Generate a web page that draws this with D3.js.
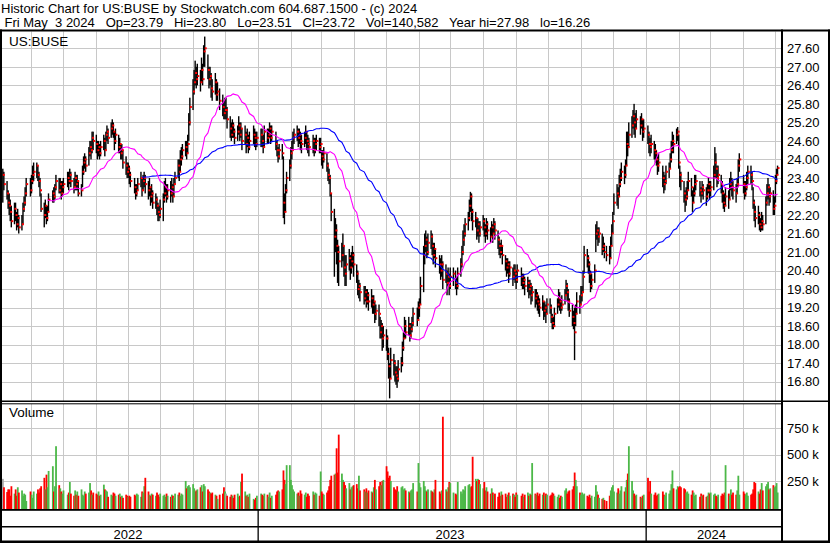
<!DOCTYPE html>
<html><head><meta charset="utf-8">
<script src="https://cdn.jsdelivr.net/npm/d3@7"></script>
<style>
html,body{margin:0;padding:0;background:#fff;}
svg{display:block;font-family:"Liberation Sans",Arial,sans-serif;}
</style></head><body>
<svg id="chart" width="830" height="543"></svg>
<script>
const title1 = "Historic Chart for US:BUSE by Stockwatch.com 604.687.1500 - (c) 2024";
const title2 = "Fri May  3 2024   Op=23.79   Hi=23.80   Lo=23.51   Cl=23.72   Vol=140,582   Year hi=27.98   lo=16.26";
const symbolLabel = "US:BUSE";
const volumeLabel = "Volume";
const priceTicks = [16.80,17.40,18.00,18.60,19.20,19.80,20.40,21.00,21.60,22.20,22.80,23.40,24.00,24.60,25.20,25.80,26.40,27.00,27.60];
const volumeTicks = [250000,500000,750000];
const volumeTickLabels = ["250 k","500 k","750 k"];
const yearLabels = ["2022","2023","2024"];
const firstDay = "2022-05-05";
const lastDay = "2024-05-03";
const holidays = ["2022-05-30","2022-06-20","2022-07-04","2022-09-05","2022-11-24","2022-12-26","2023-01-02","2023-01-16","2023-02-20","2023-04-07","2023-05-29","2023-06-19","2023-07-04","2023-09-04","2023-11-23","2023-12-25","2024-01-01","2024-01-15","2024-02-19","2024-03-29"];
const maShort = 30, maLong = 90;

// daily closes, one line per month (May 2022 .. May 2024)
const close = [
23.5,23.2,22.9,22.6,22.5,22.3,22.0,22.4,22.2,21.9,22.1,21.8,21.9,22.4,22.6,22.9,23.2,23.0,
23.3,23.5,23.6,23.8,23.5,23.3,23.0,22.4,22.2,22.5,22.1,22.3,22.7,22.9,22.8,23.1,23.3,23.0,23.2,22.9,23.1,
23.2,23.4,23.3,23.5,23.3,23.1,23.4,23.2,23.3,22.9,23.0,23.6,23.9,24.0,23.8,24.2,24.4,24.3,24.7,24.6,
24.5,24.3,24.4,24.2,24.4,24.6,24.3,24.8,24.9,24.7,25.0,25.1,24.9,24.6,24.8,24.4,24.5,24.2,24.3,23.9,23.8,23.6,23.7,
23.5,23.3,23.1,22.9,23.0,23.2,23.4,23.0,23.3,23.4,23.2,23.0,23.1,22.8,22.9,22.6,22.7,22.5,22.3,22.2,22.4,
22.7,22.9,23.1,22.8,23.0,22.9,23.1,22.8,23.2,23.4,23.8,23.6,24.0,24.1,24.3,24.4,24.2,24.5,25.2,25.7,26.2,
26.5,26.8,26.6,26.7,26.5,26.9,26.6,27.5,27.6,26.9,26.6,26.7,26.3,26.2,26.5,26.1,26.2,25.9,25.7,25.5,25.6,
25.6,25.3,25.0,24.8,25.1,24.9,24.7,24.9,25.1,24.8,25.0,24.6,24.8,24.5,24.7,24.4,24.6,24.8,24.7,24.5,24.7,
24.8,24.6,24.4,24.9,24.7,24.8,25.0,24.7,24.9,24.5,24.3,24.1,24.3,24.2,22.6,22.3,23.0,23.4,23.8,24.2,
24.3,24.7,24.8,24.9,24.7,24.8,24.6,24.5,24.7,24.9,24.6,24.5,24.4,24.6,24.3,24.5,24.6,24.4,24.5,
24.1,24.0,24.2,23.8,23.5,23.4,22.9,22.3,21.5,21.7,21.2,21.0,20.7,20.9,21.2,20.5,20.3,20.6,20.8,20.5,20.7,20.9,20.6,
20.3,19.8,19.9,19.7,19.5,19.7,19.4,19.6,19.4,19.5,19.3,19.4,19.0,19.1,19.0,18.4,18.6,18.2,18.3,
18.2,17.7,17.3,16.9,17.5,17.4,17.1,17.0,16.9,17.2,17.4,17.9,18.2,18.6,18.4,18.6,18.3,18.5,18.7,19.0,18.8,19.2,
19.3,19.9,20.9,21.2,21.4,21.0,21.3,21.5,21.2,20.9,21.1,20.8,20.6,20.4,20.6,20.1,20.3,20.0,20.2,19.9,20.2,
20.3,20.0,19.9,20.3,20.6,21.0,21.4,21.6,21.9,22.1,22.5,22.8,22.3,22.0,22.1,21.7,21.9,21.6,21.8,22.0,
21.8,21.6,21.9,21.7,21.5,21.8,21.6,21.9,21.7,21.4,21.2,21.0,21.2,20.9,20.7,20.5,20.6,20.3,20.5,20.2,20.4,20.3,20.1,
20.4,20.2,20.0,20.1,19.9,20.0,19.8,19.9,19.6,19.7,19.5,19.6,19.4,19.3,19.2,19.4,19.1,19.2,19.0,19.3,
19.2,18.9,18.7,18.6,19.0,19.3,19.5,19.4,19.2,19.3,19.6,19.9,19.7,19.4,19.1,18.9,18.7,18.4,19.0,19.4,19.3,19.6,
19.7,20.2,20.9,20.8,20.6,20.3,19.9,20.1,20.4,21.6,21.7,21.5,21.6,21.1,21.2,21.0,20.9,20.8,21.2,21.6,22.0,
22.6,22.9,22.8,23.2,23.4,23.6,23.5,23.8,24.5,24.4,24.8,25.1,25.4,25.2,25.0,25.3,25.1,25.3,24.9,25.0,
24.8,24.5,24.4,24.5,24.3,24.2,24.0,23.8,23.9,23.4,23.2,23.3,23.6,23.7,24.0,24.3,24.6,24.5,24.8,24.9,23.9,
23.5,23.3,22.9,22.7,22.8,23.0,23.3,23.1,22.6,22.9,23.2,23.3,23.0,22.9,23.1,23.0,22.8,23.0,23.2,23.0,
23.1,23.5,23.9,23.7,23.4,23.5,23.2,22.9,22.6,22.5,22.8,22.7,23.2,23.3,23.1,23.0,22.9,23.2,23.8,24.0,
23.2,22.9,23.1,23.4,23.6,23.5,23.3,22.6,22.3,22.1,22.2,21.9,21.8,22.0,21.9,22.6,22.9,23.1,22.8,22.9,22.4,22.5,
23.3,23.5,23.72
];
const high = [
23.7,23.6,23.3,23.0,22.9,22.7,22.5,22.6,22.6,22.3,22.4,22.2,22.2,22.6,22.8,23.1,23.4,23.4,
23.5,23.8,23.9,23.9,23.8,23.6,23.4,22.9,22.6,22.7,22.5,22.5,22.9,23.0,23.1,23.2,23.5,23.4,23.4,23.3,23.3,
23.4,23.6,23.6,23.7,23.6,23.4,23.6,23.5,23.5,23.3,23.2,23.8,24.1,24.2,24.1,24.4,24.6,24.6,24.9,24.9,
24.8,24.6,24.6,24.5,24.6,24.8,24.7,24.9,25.1,25.0,25.2,25.3,25.2,24.9,25.0,24.8,24.7,24.5,24.5,24.3,24.1,23.9,23.9,
23.8,23.6,23.4,23.2,23.2,23.4,23.6,23.4,23.5,23.6,23.5,23.3,23.4,23.1,23.2,23.0,22.9,22.8,22.6,22.5,22.7,
22.9,23.3,23.4,23.2,23.2,23.3,23.4,23.2,23.4,23.6,24.0,24.0,24.3,24.4,24.5,24.6,24.6,24.8,25.5,26.0,26.6,
26.9,27.2,27.0,27.1,26.9,27.3,27.1,27.7,27.98,27.4,27.0,27.0,26.8,26.6,26.8,26.6,26.5,26.3,26.1,25.9,26.0,
26.0,25.7,25.4,25.2,25.3,25.2,25.0,25.1,25.4,25.2,25.2,25.0,25.1,24.9,25.0,24.8,24.9,25.1,25.0,24.9,24.9,
25.0,25.0,24.8,25.1,25.0,25.0,25.2,25.1,25.1,24.9,24.6,24.4,24.5,24.5,24.1,22.9,23.2,23.6,24.0,24.4,
24.6,24.9,25.0,25.1,25.0,25.0,24.9,24.8,24.9,25.1,24.9,24.8,24.7,24.8,24.7,24.7,24.8,24.7,24.7,
24.3,24.3,24.4,24.2,23.9,23.7,23.5,22.9,22.4,22.1,21.9,21.4,21.2,21.3,21.6,21.2,20.9,20.9,21.1,20.9,21.0,21.2,21.0,
20.6,20.4,20.1,20.0,19.9,19.9,19.8,19.8,19.7,19.8,19.6,19.6,19.4,19.3,19.3,18.9,18.8,18.7,18.6,
18.5,18.3,17.9,17.4,17.9,17.7,17.5,17.3,17.3,17.5,17.6,18.1,18.4,18.9,18.8,18.9,18.7,18.7,18.9,19.2,19.2,19.4,
19.5,20.2,21.2,21.6,21.7,21.5,21.6,21.7,21.6,21.3,21.3,21.1,20.9,20.8,20.9,20.7,20.6,20.4,20.5,20.3,20.5,
20.5,20.4,20.2,20.5,20.8,21.2,21.7,21.9,22.1,22.3,22.7,22.95,22.9,22.4,22.3,22.1,22.1,22.0,22.0,22.2,
22.1,21.9,22.1,22.0,21.8,22.0,21.9,22.1,22.0,21.7,21.5,21.3,21.4,21.2,20.9,20.8,20.8,20.7,20.7,20.5,20.6,20.6,20.4,
20.6,20.5,20.3,20.3,20.2,20.2,20.1,20.1,20.0,19.9,19.8,19.8,19.7,19.6,19.5,19.6,19.4,19.4,19.3,19.5,
19.5,19.3,19.0,18.9,19.2,19.5,19.8,19.7,19.5,19.6,19.8,20.1,20.0,19.8,19.5,19.3,19.1,19.2,19.3,19.7,19.6,19.9,
19.9,20.4,21.2,21.1,20.9,20.7,20.4,20.3,20.6,21.9,22.0,21.8,21.8,21.6,21.5,21.3,21.2,21.2,21.5,21.9,22.3,
22.9,23.2,23.1,23.5,23.7,23.9,23.8,24.0,24.9,24.9,25.2,25.4,25.6,25.8,25.5,25.6,25.4,25.5,25.3,25.3,
25.1,24.9,24.7,24.8,24.6,24.5,24.3,24.1,24.2,23.8,23.6,23.5,23.8,23.9,24.2,24.6,24.9,24.8,25.0,25.05,24.8,
23.8,23.6,23.3,23.0,23.1,23.3,23.6,23.4,23.0,23.1,23.5,23.5,23.3,23.1,23.3,23.2,23.1,23.2,23.4,23.3,
23.3,23.8,24.4,24.2,23.8,23.8,23.5,23.3,23.0,22.9,23.1,23.0,23.4,23.6,23.4,23.3,23.2,23.4,24.0,24.2,
23.5,23.3,23.3,23.6,23.8,23.8,23.6,23.1,22.7,22.5,22.5,22.3,22.1,22.3,22.2,22.8,23.2,23.4,23.2,23.1,23.0,22.8,
23.5,23.7,23.80
];
const low = [
22.6,23.0,22.7,22.4,22.2,22.0,21.8,21.9,22.0,21.7,21.8,21.6,21.7,21.9,22.3,22.5,22.8,22.8,
22.9,23.2,23.3,23.4,23.3,23.1,22.8,22.3,21.8,22.1,21.9,22.0,22.3,22.6,22.6,22.7,23.0,22.9,22.9,22.7,22.8,
22.9,23.1,23.0,23.2,23.1,22.9,23.0,23.0,23.0,22.8,22.8,23.1,23.5,23.7,23.6,23.8,24.1,24.0,24.2,24.3,
24.2,24.0,24.1,24.0,24.1,24.3,24.1,24.3,24.6,24.5,24.7,24.8,24.7,24.3,24.5,24.2,24.2,24.0,24.0,23.7,23.5,23.4,23.4,
23.2,23.1,22.9,22.7,22.8,23.0,23.1,22.8,23.0,23.1,22.9,22.7,22.8,22.5,22.6,22.4,22.4,22.2,22.0,22.0,22.1,
22.0,22.6,22.8,22.6,22.7,22.6,22.8,22.6,22.8,23.2,23.4,23.3,23.6,23.8,24.0,24.1,24.0,24.2,24.6,25.1,25.6,
26.1,26.4,26.3,26.4,26.2,26.5,26.4,27.0,27.0,26.6,26.3,26.4,26.0,25.9,26.1,25.9,25.9,25.6,25.4,25.3,25.3,
25.3,25.0,24.7,24.6,24.7,24.7,24.5,24.6,24.8,24.6,24.7,24.3,24.5,24.2,24.4,24.2,24.3,24.5,24.4,24.3,24.4,
24.4,24.4,24.2,24.4,24.5,24.5,24.7,24.5,24.6,24.3,24.1,23.9,24.0,24.0,22.1,21.9,22.3,22.9,23.3,23.7,
24.0,24.3,24.5,24.6,24.4,24.5,24.3,24.2,24.4,24.5,24.3,24.2,24.1,24.2,24.1,24.2,24.3,24.2,24.2,
23.8,23.7,23.9,23.6,23.3,23.2,22.8,22.0,20.2,21.0,20.6,20.0,19.9,20.5,20.7,20.2,19.9,19.9,20.4,20.1,20.3,20.5,20.2,
20.0,19.6,19.5,19.4,19.3,19.4,19.2,19.3,19.1,19.2,19.0,19.0,18.7,18.8,18.6,18.2,18.2,17.8,17.9,
17.8,17.5,16.9,16.26,16.9,17.0,16.8,16.7,16.6,16.8,17.1,17.3,17.8,18.2,18.2,18.3,18.1,18.2,18.4,18.6,18.6,18.8,
18.9,19.3,19.7,20.6,21.0,20.8,20.9,21.1,20.9,20.6,20.8,20.5,20.3,20.1,20.2,19.8,20.0,19.6,19.9,19.6,19.8,
19.9,19.8,19.6,19.8,20.2,20.5,20.9,21.2,21.5,21.7,22.0,22.3,22.0,21.7,21.8,21.4,21.5,21.3,21.5,21.7,
21.5,21.3,21.5,21.4,21.3,21.5,21.3,21.6,21.4,21.1,20.9,20.8,20.9,20.6,20.4,20.2,20.3,20.0,20.2,19.9,20.1,20.0,19.8,
20.0,19.9,19.8,19.8,19.6,19.7,19.5,19.6,19.3,19.4,19.2,19.3,19.1,19.0,18.9,19.1,18.8,18.9,18.7,19.0,
19.0,18.7,18.5,18.5,18.6,19.0,19.2,19.1,19.0,19.1,19.3,19.6,19.4,19.1,18.9,18.6,18.5,17.5,18.6,19.0,19.0,19.3,
19.4,19.7,20.3,20.5,20.3,20.0,19.7,19.8,20.0,21.0,21.4,21.2,21.3,20.9,21.0,20.8,20.7,20.6,20.8,21.2,21.6,
22.2,22.5,22.4,22.8,23.1,23.3,23.2,23.4,23.8,24.1,24.4,24.7,25.0,24.8,24.7,25.0,24.8,25.0,24.6,24.7,
24.5,24.2,24.1,24.2,24.0,23.9,23.8,23.5,23.6,23.1,22.9,23.0,23.2,23.4,23.7,23.9,24.2,24.2,24.5,24.6,23.7,
23.1,23.0,22.6,22.3,22.5,22.7,23.0,22.8,22.3,22.6,22.8,23.0,22.8,22.6,22.8,22.7,22.5,22.7,22.9,22.7,
22.8,23.0,23.4,23.4,23.1,23.2,22.9,22.6,22.4,22.3,22.5,22.4,22.7,23.0,22.8,22.7,22.6,22.9,23.1,23.6,
22.9,22.7,22.8,23.0,23.2,23.2,23.0,22.4,22.0,21.8,21.9,21.7,21.65,21.7,21.7,21.9,22.5,22.7,22.5,22.6,22.2,22.2,
22.6,23.2,23.51
];
// daily volume, thousands of shares
const volume = [
270,190,145,170,170,110,200,130,170,110,190,140,160,110,130,120,60,150,
120,90,150,130,170,140,180,200,280,170,310,190,345,390,150,200,580,210,180,150,130,
160,120,140,240,130,110,160,120,150,110,170,120,110,150,130,140,230,160,120,140,
130,120,150,110,120,215,170,160,150,100,120,110,140,130,110,120,130,100,110,90,120,110,100,
110,100,120,110,130,120,100,150,140,200,280,150,120,110,130,120,110,140,120,100,130,
110,120,100,130,110,100,120,110,90,130,120,140,110,130,120,250,180,200,210,190,220,
180,150,160,170,190,210,150,220,200,170,150,140,130,140,120,110,80,120,130,190,150,
130,110,100,120,110,90,120,130,100,110,240,320,150,110,120,100,130,80,70,90,110,
130,120,110,130,120,100,140,90,110,120,150,160,150,170,350,260,220,400,400,260,
210,170,150,130,140,110,160,130,120,140,100,130,110,150,120,140,130,110,340,
150,130,120,140,160,200,260,300,310,320,560,330,690,320,260,240,210,180,230,170,190,200,210,
220,180,300,160,170,150,180,140,160,150,140,190,260,170,200,240,210,250,260,
390,340,280,300,250,190,170,160,200,150,190,200,170,180,160,150,140,160,170,230,150,420,
230,190,250,200,160,150,170,160,150,140,170,260,150,130,160,860,170,150,190,240,230,
140,130,120,240,150,130,170,160,200,210,220,190,200,480,270,250,270,260,220,180,
240,160,190,150,130,180,140,120,130,100,140,110,150,120,130,100,120,140,110,130,120,100,140,
120,110,130,100,120,140,110,130,120,420,130,120,140,110,130,120,140,110,130,120,
110,120,140,130,110,100,120,90,110,100,160,180,130,150,160,170,200,330,260,200,140,120,
140,120,130,110,100,120,90,110,100,210,150,120,90,80,90,70,60,110,160,190,210,
150,140,180,130,160,200,150,190,260,320,580,250,160,130,110,120,100,90,110,120,
280,150,250,130,120,140,110,120,130,150,120,110,140,130,160,220,350,180,170,200,190,
200,190,180,170,140,150,130,120,160,140,110,120,100,130,110,120,100,110,140,130,
140,120,130,110,100,120,110,130,120,140,400,130,110,170,120,140,120,160,300,120,
150,130,120,140,110,120,130,170,240,230,150,130,170,230,160,200,220,240,170,180,210,190,
200,230,140.582
];

// ---- trading calendar ----
const parse = d3.timeParse("%Y-%m-%d");
const holidaySet = new Set(holidays);
const fmt = d3.timeFormat("%Y-%m-%d");
const dates = [];
for (let d = parse(firstDay); d <= parse(lastDay); d = d3.timeDay.offset(d, 1)) {
  const wd = d.getDay();
  if (wd === 0 || wd === 6 || holidaySet.has(fmt(d))) continue;
  dates.push(d);
}
const n = Math.min(dates.length, close.length, high.length, low.length, volume.length);
const bars = d3.range(n).map(i => ({date: dates[i], c: close[i], h: high[i], l: low[i], v: volume[i]*1000,
  dir: i === 0 ? 0 : Math.sign(Math.round((close[i]-close[i-1])*100))}));

function sma(len) {
  const out = [];
  for (let i = len - 1; i < n; i++) out.push({date: dates[i], v: d3.mean(close.slice(i-len+1, i+1))});
  return out;
}

// ---- layout ----
const W = 830, H = 543;
const plotL = 2, plotR = 781;
const priceTop = 31.5, priceBot = 401;
const volTop = 404, volBot = 509;

const x = d3.scaleTime().domain([new Date(2022,4,5), new Date(2024,4,7)]).range([plotL, plotR]);
const y = d3.scaleLinear().domain([16.80, 27.60]).range([381.7, 48.3]);
const yv = d3.scaleLinear().domain([0, 750000]).range([507.3, 428.3]);

const svg = d3.select("#chart");
svg.append("rect").attr("width", W).attr("height", H).attr("fill", "#fff");

const grid = "#c8c8c8";
const months = d3.timeMonth.range(new Date(2022,5,1), new Date(2024,4,2));
const gx = svg.append("g").attr("stroke", grid).attr("stroke-width", 1);
months.forEach(m => {
  const xx = Math.round(x(m)) + 0.5;
  gx.append("line").attr("x1", xx).attr("x2", xx).attr("y1", priceTop).attr("y2", priceBot);
  gx.append("line").attr("x1", xx).attr("x2", xx).attr("y1", volTop).attr("y2", volBot);
});
priceTicks.forEach(t => {
  const yy = Math.round(y(t)) + 0.5;
  gx.append("line").attr("x1", plotL).attr("x2", plotR).attr("y1", yy).attr("y2", yy);
});
volumeTicks.forEach(t => {
  const yy = Math.round(yv(t)) + 0.5;
  gx.append("line").attr("x1", plotL).attr("x2", plotR).attr("y1", yy).attr("y2", yy);
});

// clip
svg.append("clipPath").attr("id", "pclip").append("rect")
  .attr("x", plotL).attr("y", priceTop).attr("width", plotR - plotL).attr("height", priceBot - priceTop);

const pg = svg.append("g").attr("clip-path", "url(#pclip)");
const bx = d => x(d.date) + 0.8;
pg.append("g").selectAll("rect").data(bars).join("rect")
  .attr("x", d => bx(d) - 0.7).attr("width", 1.4)
  .attr("y", d => y(d.h)).attr("height", d => Math.max(1, y(d.l) - y(d.h)))
  .attr("fill", "#000");
pg.append("g").selectAll("rect").data(bars).join("rect")
  .attr("x", d => bx(d)).attr("width", 2)
  .attr("y", d => y(d.c) - 1).attr("height", 2)
  .attr("fill", "#ff0000");

const line = d3.line().x(d => x(d.date) + 0.8).y(d => y(d.v));
pg.append("path").datum(sma(maLong)).attr("d", line).attr("fill", "none").attr("stroke", "#0000ff").attr("stroke-width", 1.1);
pg.append("path").datum(sma(maShort)).attr("d", line).attr("fill", "none").attr("stroke", "#ff00ff").attr("stroke-width", 1.1);

// volume
const volColor = d => d.dir > 0 ? "#4cb848" : d.dir < 0 ? "#ff0000" : "#a8a8a8";
svg.append("g").selectAll("rect").data(bars).join("rect")
  .attr("x", d => x(d.date)).attr("width", 1.8)
  .attr("y", d => yv(d.v)).attr("height", d => yv(0) - yv(d.v) + 1.7)
  .attr("fill", volColor);

// frame
const frame = svg.append("g").attr("fill", "#000");
frame.append("rect").attr("x", 0).attr("y", 29.5).attr("width", W).attr("height", 2);
frame.append("rect").attr("x", 0).attr("y", 29.5).attr("width", 2).attr("height", H - 29.5);
frame.append("rect").attr("x", 828).attr("y", 29.5).attr("width", 2).attr("height", H - 29.5);
frame.append("rect").attr("x", 781).attr("y", 29.5).attr("width", 2).attr("height", H - 29.5);
frame.append("rect").attr("x", 0).attr("y", 400.5).attr("width", W).attr("height", 1.5);
frame.append("rect").attr("x", 0).attr("y", 403.3).attr("width", 782).attr("height", 1);
frame.append("rect").attr("x", 0).attr("y", 509).attr("width", 782).attr("height", 1.8);
frame.append("rect").attr("x", 0).attr("y", 526).attr("width", 782).attr("height", 1.5);
frame.append("rect").attr("x", 0).attr("y", 540.5).attr("width", W).attr("height", 2.5);
[new Date(2023,0,1), new Date(2024,0,1)].forEach(dd => {
  frame.append("rect").attr("x", Math.round(x(dd)) - 0.5).attr("y", 510).attr("width", 1.3).attr("height", 31);
});

// texts
const txt = svg.append("g").attr("fill", "#000").style("font-size", "13px").style("white-space", "pre");
txt.append("text").attr("x", 1).attr("y", 13).attr("xml:space", "preserve").text(title1);
txt.append("text").attr("x", 4.5).attr("y", 27).attr("xml:space", "preserve").text(title2);
txt.append("text").attr("x", 9).attr("y", 46).style("font-size", "13.5px").text(symbolLabel);
txt.append("text").attr("x", 9).attr("y", 417).style("font-size", "13.5px").text(volumeLabel);

const ax = svg.append("g").attr("fill", "#000").style("font-size", "13px");
priceTicks.forEach(t => {
  ax.append("text").attr("x", 787).attr("y", y(t)).attr("dy", "0.36em").text(d3.format(".2f")(t));
});
volumeTicks.forEach((t, i) => {
  ax.append("text").attr("x", 787).attr("y", yv(t)).attr("dy", "0.36em").text(volumeTickLabels[i]);
});
const yearBounds = [x.range()[0], x(new Date(2023,0,1)), x(new Date(2024,0,1)), x.range()[1]];
yearLabels.forEach((lab, i) => {
  ax.append("text").attr("x", (yearBounds[i] + yearBounds[i+1]) / 2 - 2).attr("y", 539)
    .attr("text-anchor", "middle").text(lab);
});
</script>
</body></html>
